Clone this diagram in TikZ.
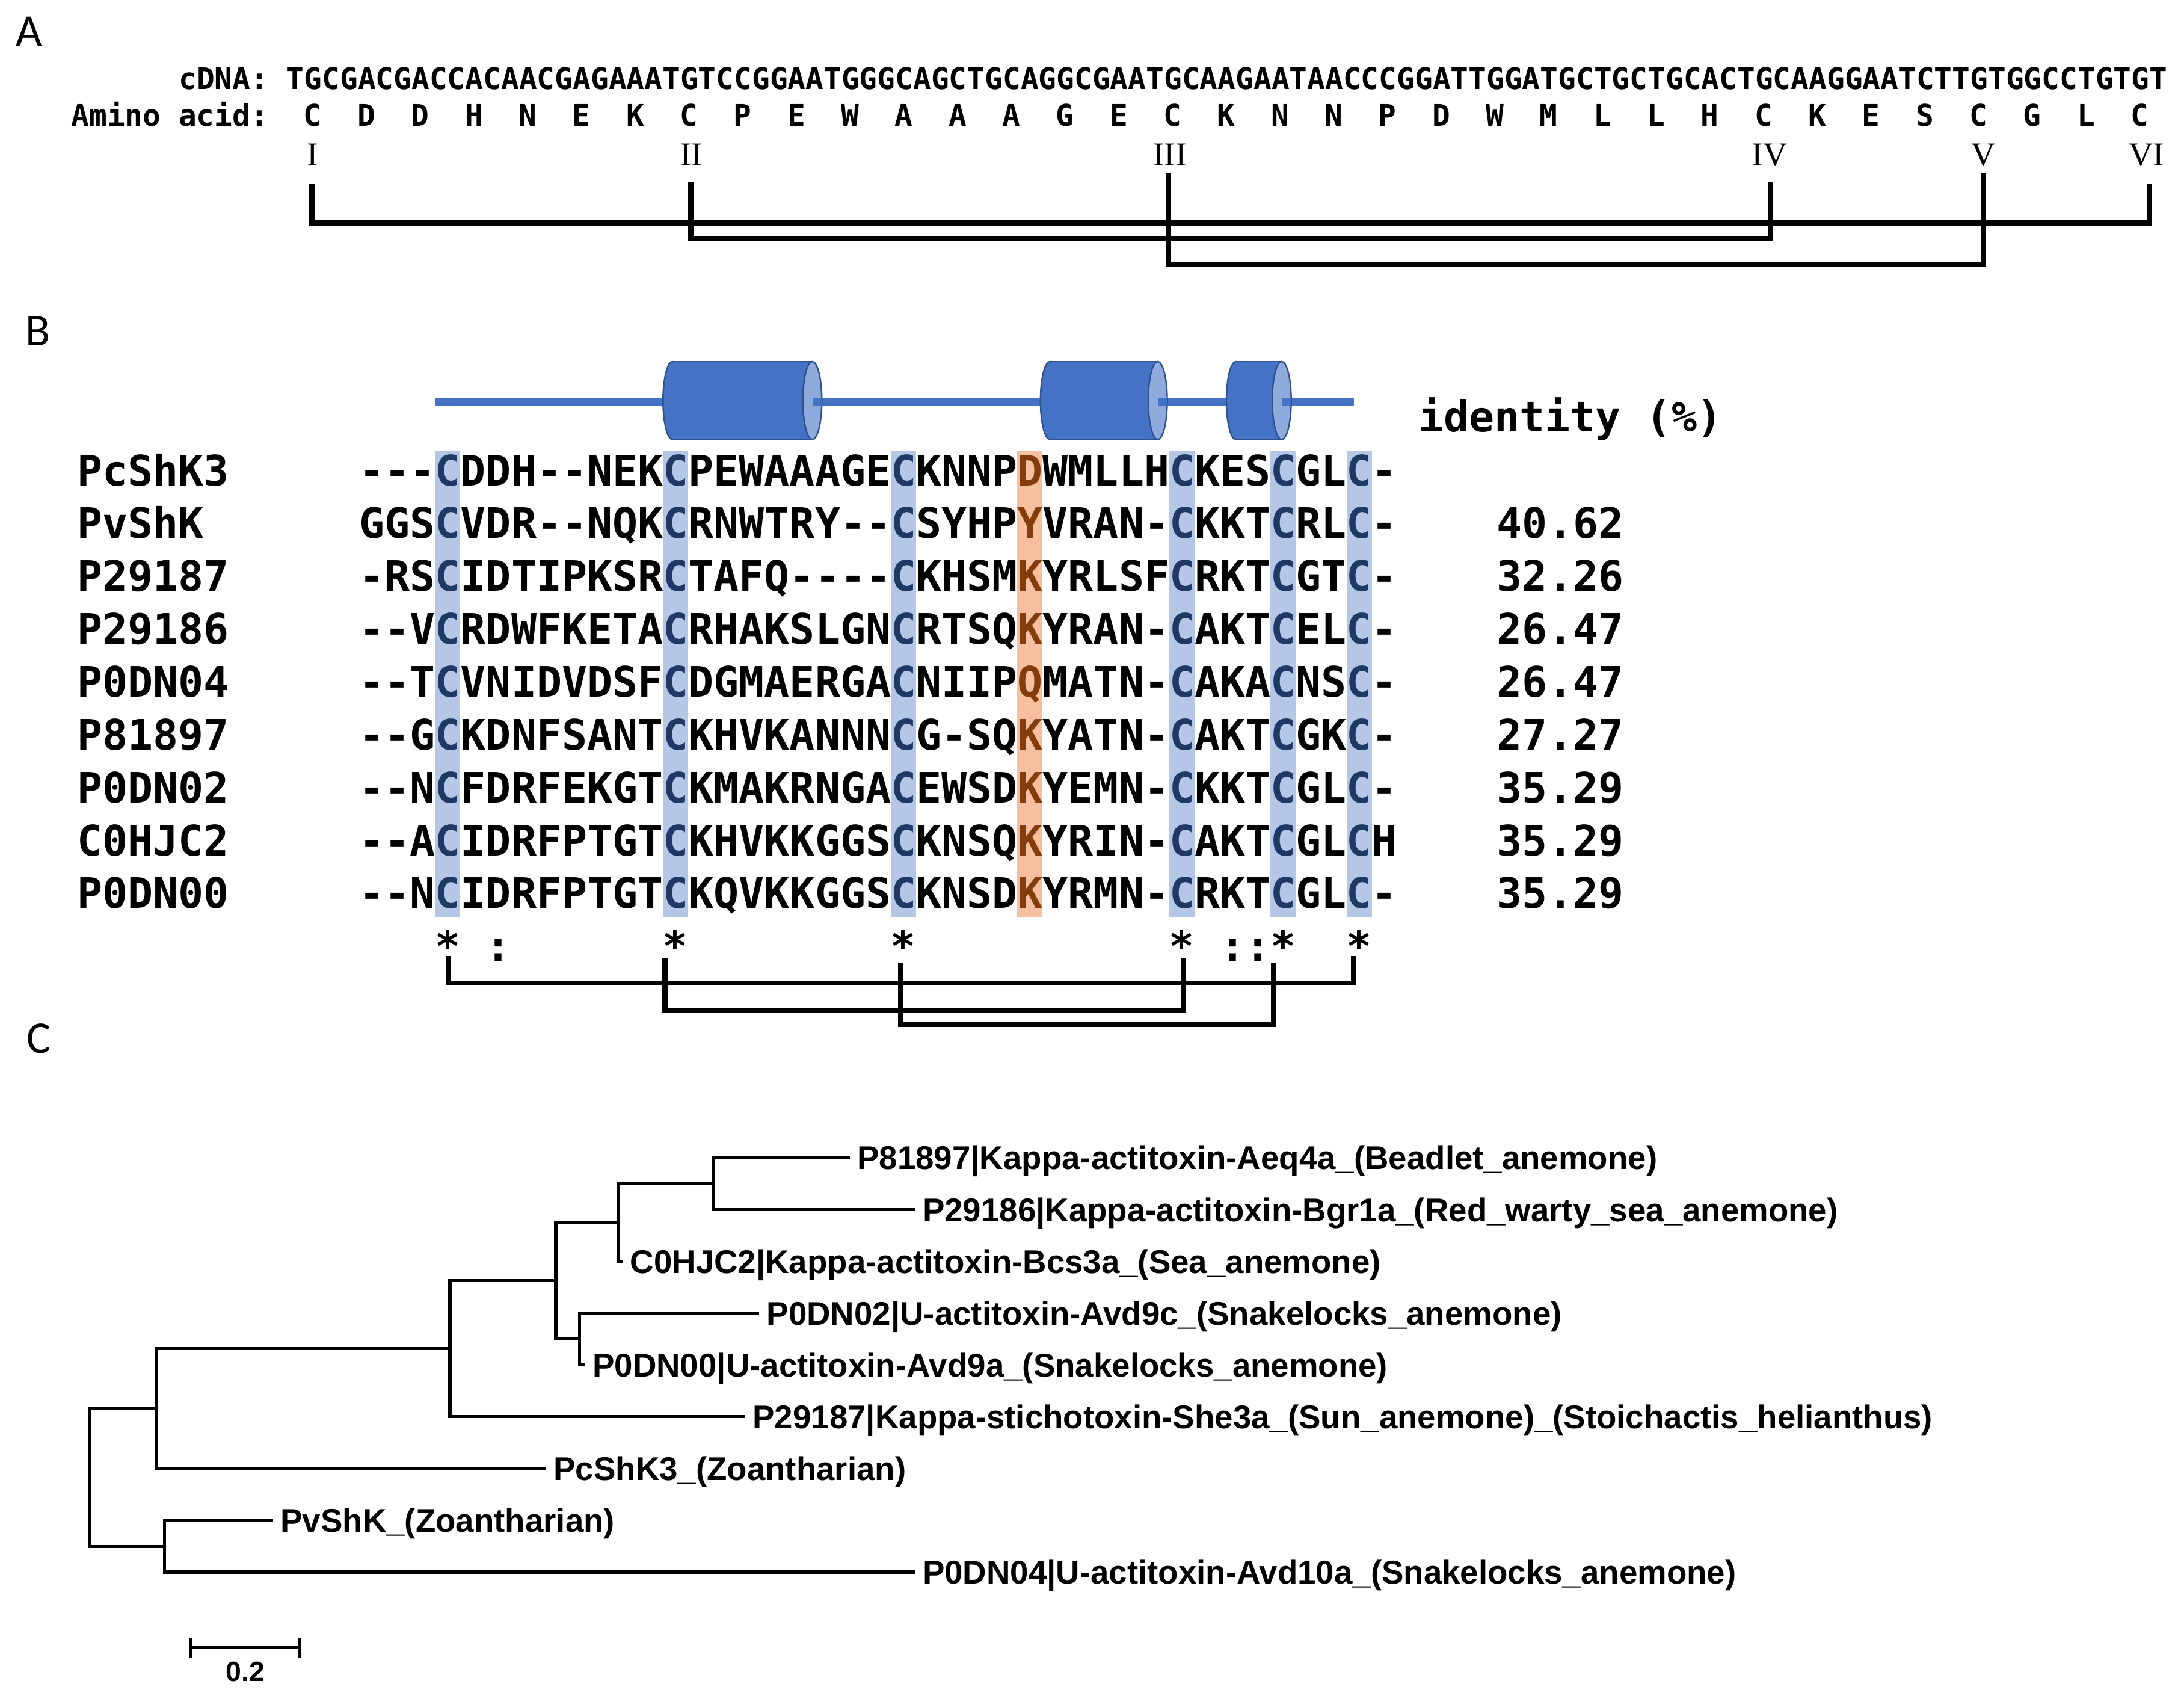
\documentclass[tikz,border=0pt]{standalone}
\usepackage{fontspec}
\setmainfont{Liberation Serif}
\setsansfont{Liberation Sans}
\setmonofont{DejaVu Sans Mono}
\newfontfamily\panelfont{Carlito}

\definecolor{helixblue}{HTML}{4472C4}
\definecolor{helixedge}{HTML}{2F528F}
\definecolor{helixface}{HTML}{8FAADC}
\definecolor{cysband}{HTML}{B4C7E7}
\definecolor{keyband}{HTML}{F6C0A0}
\definecolor{cysink}{HTML}{1F3864}
\definecolor{keyink}{HTML}{843C0C}

\newcommand{\cysres}[1]{\textcolor{cysink}{#1}}
\newcommand{\keyres}[1]{\textcolor{keyink}{#1}}

\tikzset{
  panel/.style={font=\panelfont\fontsize{18.5}{20}\selectfont, inner sep=0pt, anchor=base west},
  dna/.style={font=\ttfamily\bfseries\fontsize{12.16}{14}\selectfont, inner sep=0pt},
  numeral/.style={font=\rmfamily\fontsize{13.66}{15}\selectfont, inner sep=0pt, anchor=base},
  aln/.style={font=\ttfamily\bfseries\fontsize{17.18}{20}\selectfont, inner sep=0pt, anchor=base west},
  bond/.style={line width=2.1pt},
  helix/.style={line width=2.85pt, helixblue},
  rim/.style={draw=helixedge, line width=0.6pt},
  leaf/.style={font=\sffamily\bfseries\fontsize{13.43}{16}\selectfont, anchor=west,
    inner xsep=2.9pt, inner ysep=0pt, text height=9.6pt, text depth=0pt},
  branch/.style={line width=1.3pt},
}

\begin{document}
\begin{tikzpicture}[x=0.02cm, y=-0.02cm]
  \useasboundingbox (0,0) rectangle (1568,1213);

  % A: cDNA and translation
  \node[panel] (pa) at (11,33) {A};
  \node[dna, anchor=base west] (cdna) at (128,64)
    {cDNA: TGCGACGACCACAACGAGAAATGTCCGGAATGGGCAGCTGCAGGCGAATGCAAGAATAACCCGGATTGGATGCTGCTGCACTGCAAGGAATCTTGTGGCCTGTGT};
  \node[dna, anchor=base west] (aalab) at (50.8,90.4) {Amino acid:};
  \foreach \aa [count=\i from 0] in {C,D,D,H,N,E,K,C,P,E,W,A,A,A,G,E,C,K,N,N,P,D,W,M,L,L,H,C,K,E,S,C,G,L,C} {
    \node[dna, anchor=base] (aa\i) at (224.5+38.58*\i, 90.4) {\aa};
  }
  \foreach \r/\x [count=\k] in {I/224.5, II/496.5, III/840, IV/1270.5, V/1424, VI/1541} {
    \node[numeral] (r\k) at (\x,118.8) {\r};
  }
  \foreach \xa/\xb/\yt/\yb in {224/1543/132/160, 496/1271/131/171, 839/1424/124/190} {
    \draw[bond] (\xa,\yt) -- (\xa,\yb) -- (\xb,\yb) -- (\xb,\yt);
  }

  % B: alignment
  \node[panel] (pb) at (18,248) {B};
  \draw[helix] (312,288.5) -- (972,288.5);
  \foreach \xa/\xb in {476/590, 747/838, 880.5/927} {
    \fill[helixblue, rim] (\xa+6.8,287.5) ellipse [x radius=6.8, y radius=28];
    \fill[helixblue] (\xa+6.8,259.5) rectangle (\xb-6.8,315.5);
    \draw[rim] (\xa+6.8,259.5) -- (\xb-6.8,259.5) (\xa+6.8,315.5) -- (\xb-6.8,315.5);
    \fill[helixface, rim] (\xb-6.8,287.5) ellipse [x radius=6.8, y radius=28];
    \draw[helix] (\xb-6.8,288.5) -- (\xb,288.5);
  }
  \node[aln] (idhead) at (1018,310) {identity (\%)};

  \foreach \c in {3,12,21,32,36,39} {
    \fill[cysband] (257.7+18.18*\c,324) rectangle ++(18.18,334);
  }
  \fill[keyband] (257.7+18.18*26,324) rectangle ++(18.18,334);

  \foreach \lbl/\sq [count=\r from 0] in {
    PcShK3/{---\cysres{C}DDH--NEK\cysres{C}PEWAAAGE\cysres{C}KNNP\keyres{D}WMLLH\cysres{C}KES\cysres{C}GL\cysres{C}-},
    PvShK/{GGS\cysres{C}VDR--NQK\cysres{C}RNWTRY--\cysres{C}SYHP\keyres{Y}VRAN-\cysres{C}KKT\cysres{C}RL\cysres{C}-},
    P29187/{-RS\cysres{C}IDTIPKSR\cysres{C}TAFQ----\cysres{C}KHSM\keyres{K}YRLSF\cysres{C}RKT\cysres{C}GT\cysres{C}-},
    P29186/{--V\cysres{C}RDWFKETA\cysres{C}RHAKSLGN\cysres{C}RTSQ\keyres{K}YRAN-\cysres{C}AKT\cysres{C}EL\cysres{C}-},
    P0DN04/{--T\cysres{C}VNIDVDSF\cysres{C}DGMAERGA\cysres{C}NIIP\keyres{Q}MATN-\cysres{C}AKA\cysres{C}NS\cysres{C}-},
    P81897/{--G\cysres{C}KDNFSANT\cysres{C}KHVKANNN\cysres{C}G-SQ\keyres{K}YATN-\cysres{C}AKT\cysres{C}GK\cysres{C}-},
    P0DN02/{--N\cysres{C}FDRFEKGT\cysres{C}KMAKRNGA\cysres{C}EWSD\keyres{K}YEMN-\cysres{C}KKT\cysres{C}GL\cysres{C}-},
    C0HJC2/{--A\cysres{C}IDRFPTGT\cysres{C}KHVKKGGS\cysres{C}KNSQ\keyres{K}YRIN-\cysres{C}AKT\cysres{C}GL\cysres{C}H},
    P0DN00/{--N\cysres{C}IDRFPTGT\cysres{C}KQVKKGGS\cysres{C}KNSD\keyres{K}YRMN-\cysres{C}RKT\cysres{C}GL\cysres{C}-}} {
    \node[aln] (name\r) at (55, 348.5+37.94*\r) {\lbl};
    \node[aln] (seq\r) at (257.7, 348.5+37.94*\r) {\sq};
  }
  \foreach \pid [count=\r] in {40.62, 32.26, 26.47, 26.47, 27.27, 35.29, 35.29, 35.29} {
    \node[aln, anchor=base east] (id\r) at (1166, 348.5+37.94*\r) {\pid};
  }
  \foreach \c/\s in {3/*, 5/:, 12/*, 21/*, 32/*, 34/:, 35/:, 36/*, 39/*} {
    \node[aln, anchor=base] (cons\c) at (266.8+18.18*\c, 689.8) {\s};
  }
  \foreach \xa/\xb/\yt/\yb in {321.8/971.7/686/705.6, 477.3/849.4/688/725, 646.5/914.2/691/735.5} {
    \draw[bond] (\xa,\yt) -- (\xa,\yb) -- (\xb,\yb) -- (\xb,\yt);
  }

  % C: tree
  \node[panel] (pc) at (19,756) {C};
  \coordinate (root) at (64,1060.5);
  \coordinate (nA) at (112,1011.1);
  \coordinate (nB) at (323,968.1);
  \coordinate (nC) at (399,919.3);
  \coordinate (nD) at (444,877.5);
  \coordinate (nE) at (416,961.1);
  \coordinate (nF) at (512,849.6);
  \coordinate (nG) at (118,1109.9);

  \node[leaf] (l1) at (610,831) {P81897|Kappa-actitoxin-Aeq4a\_(Beadlet\_anemone)};
  \node[leaf] (l2) at (657,868.2) {P29186|Kappa-actitoxin-Bgr1a\_(Red\_warty\_sea\_anemone)};
  \node[leaf] (l3) at (447,905.4) {C0HJC2|Kappa-actitoxin-Bcs3a\_(Sea\_anemone)};
  \node[leaf] (l4) at (545,942.5) {P0DN02|U-actitoxin-Avd9c\_(Snakelocks\_anemone)};
  \node[leaf] (l5) at (420,979.7) {P0DN00|U-actitoxin-Avd9a\_(Snakelocks\_anemone)};
  \node[leaf] (l6) at (535,1016.9) {P29187|Kappa-stichotoxin-She3a\_(Sun\_anemone)\_(Stoichactis\_helianthus)};
  \node[leaf] (l7) at (392,1054.1) {PcShK3\_(Zoantharian)};
  \node[leaf] (l8) at (196,1091.3) {PvShK\_(Zoantharian)};
  \node[leaf] (l9) at (657,1128.4) {P0DN04|U-actitoxin-Avd10a\_(Snakelocks\_anemone)};

  \draw[branch] (nF) |- (l1.west);
  \draw[branch] (nF) |- (l2.west);
  \draw[branch] (nD) |- (nF);
  \draw[branch] (nD) |- (l3.west);
  \draw[branch] (nE) |- (l4.west);
  \draw[branch] (nE) |- (l5.west);
  \draw[branch] (nC) |- (nD);
  \draw[branch] (nC) |- (nE);
  \draw[branch] (nB) |- (nC);
  \draw[branch] (nB) |- (l6.west);
  \draw[branch] (nA) |- (nB);
  \draw[branch] (nA) |- (l7.west);
  \draw[branch] (nG) |- (l8.west);
  \draw[branch] (nG) |- (l9.west);
  \draw[branch] (root) |- (nA);
  \draw[branch] (root) |- (nG);

  % scale bar
  \draw[branch] (137,1182.5) -- (215,1182.5);
  \draw[branch] (137,1176) -- (137,1190) (215,1176) -- (215,1190);
  \node[font=\sffamily\bfseries\fontsize{11.4}{13}\selectfont, inner sep=0pt, anchor=north] (scale) at (176,1192.5) {0.2};
\end{tikzpicture}
\end{document}
